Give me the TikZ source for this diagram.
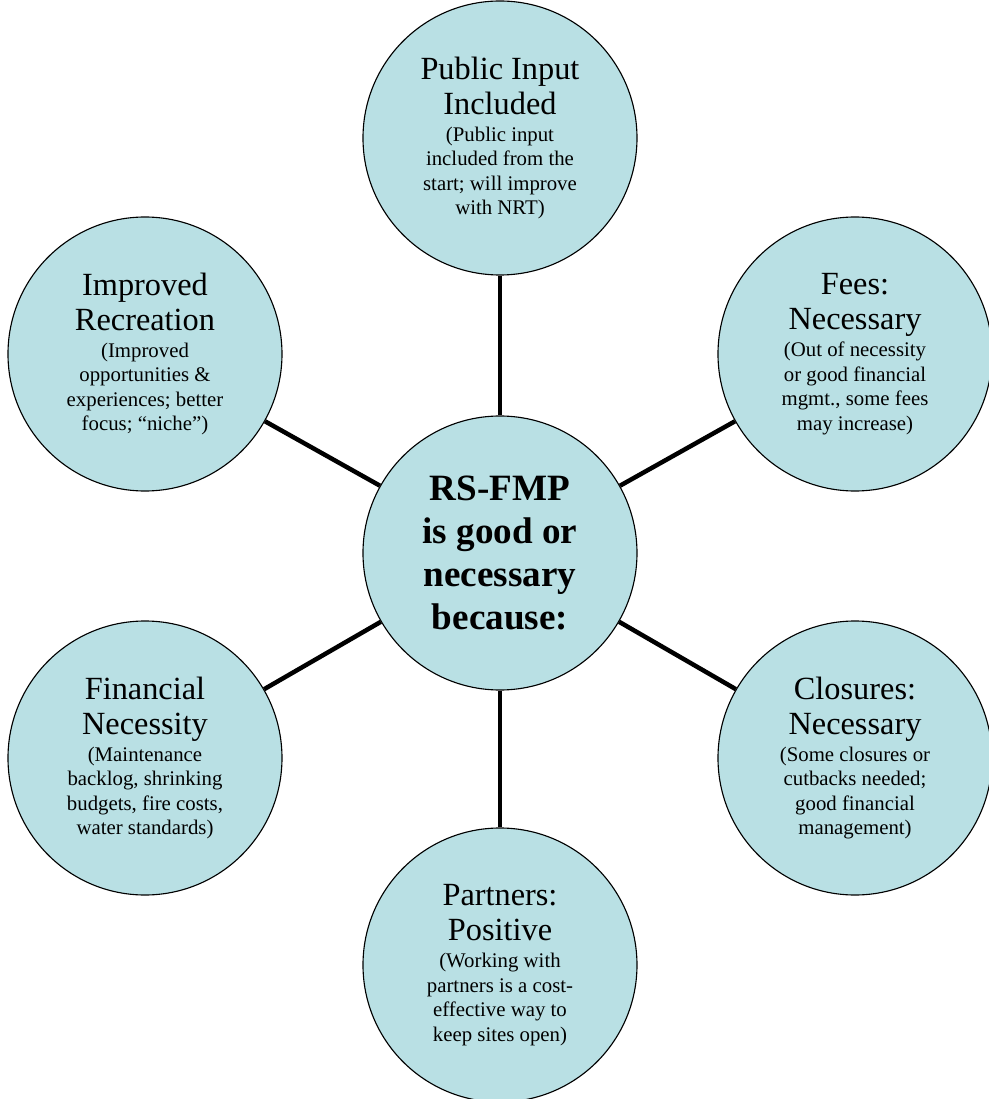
\documentclass[tikz,border=0pt]{standalone}
\usepackage{fontspec}
\setmainfont{Liberation Serif}
\usepackage{tikz}
\usetikzlibrary{calc}

\definecolor{bubblefill}{RGB}{185,224,228}
\newcommand{\headtxt}{\fontsize{23pt}{24.9pt}\selectfont}
\newcommand{\notetxt}{\fontsize{14.8pt}{17.4pt}\selectfont\lineskiplimit=-100pt\relax}
\newcommand{\hubtxt}{\fontsize{26.4pt}{30.6pt}\selectfont\bfseries\lineskiplimit=-100pt\relax}

\tikzset{
  bubble/.style={circle, draw=black, line width=0.8pt, fill=bubblefill,
    minimum size=6.85cm, inner sep=0pt, align=center, font=\notetxt},
  hubble/.style={bubble, font=\hubtxt},
  spoke/.style={line width=3.2pt}
}

\begin{document}
\begin{tikzpicture}
          \useasboundingbox (-12.5, -13.65) rectangle (12.2, 13.825);
          \node[hubble] (hub) at (0, 0) {RS-FMP\\is good or\\necessary\\because:};
          %
          \node[bubble] (input) at (0, 10.375) {\headtxt Public Input\\[7.5pt]\headtxt Included\\[1.8pt](Public input\\included from the\\start; will improve\\with NRT)};
          \node[bubble] (recr) at (-8.875, 4.975) {\headtxt Improved\\[7.5pt]\headtxt Recreation\\[1.8pt](Improved\\opportunities \&\\experiences; better\\focus; “niche”)};
          \node[bubble] (fees) at (8.875, 4.975) {\headtxt Fees:\\[7.5pt]\headtxt Necessary\\[1.8pt](Out of necessity\\or good financial\\mgmt., some fees\\may increase)};
          \node[bubble] (finance) at (-8.875, -5.125) {\headtxt Financial\\[7.5pt]\headtxt Necessity\\[1.8pt](Maintenance\\backlog, shrinking\\budgets, fire costs,\\water standards)};
          \node[bubble] (closures) at (8.875, -5.125) {\headtxt Closures:\\[7.5pt]\headtxt Necessary\\[1.8pt](Some closures or\\cutbacks needed;\\good financial\\management)};
          \node[bubble] (partners) at (0, -10.3) {\headtxt Partners:\\[7.5pt]\headtxt Positive\\[1.8pt](Working with\\partners is a cost-\\effective way to\\keep sites open)};
          %
          \draw[spoke] (hub) -- (input);
          \draw[spoke] (hub) -- (recr);
          \draw[spoke] (hub) -- (fees);
          \draw[spoke] (hub) -- (finance);
          \draw[spoke] (hub) -- (closures);
          \draw[spoke] (hub) -- (partners);
        \end{tikzpicture}
\end{document}
